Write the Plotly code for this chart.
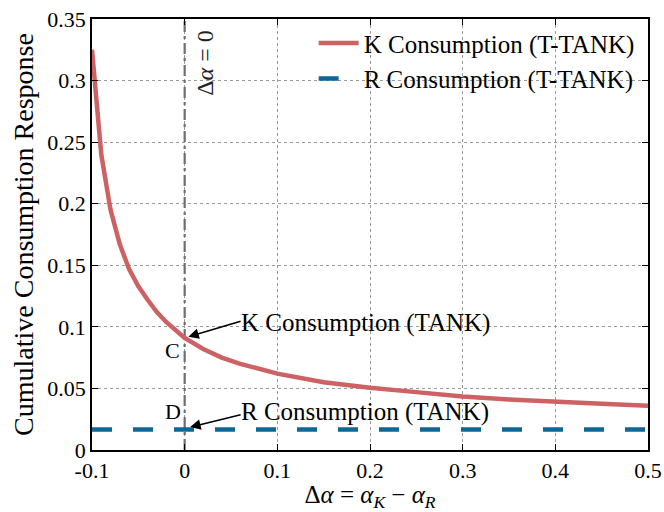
import plotly.graph_objects as go

# ---- data ----
delta_alpha = [-0.1, -0.09, -0.08, -0.07, -0.06, -0.05, -0.04, -0.03, -0.02, -0.01,
               0.0, 0.02, 0.04, 0.06, 0.08, 0.10, 0.15, 0.20, 0.25, 0.30, 0.35,
               0.40, 0.45, 0.50]
k_consumption = [0.325, 0.240, 0.195, 0.167, 0.147, 0.133, 0.122, 0.112, 0.104, 0.097,
                 0.091, 0.082, 0.075, 0.070, 0.066, 0.062, 0.055, 0.0505, 0.047, 0.0435,
                 0.041, 0.039, 0.0375, 0.036]
r_range = [-0.1, 0.5]
r_consumption = [0.0166, 0.0166]
vline_x = [0.0, 0.0]
vline_y = [0.0, 0.35]

x_ticks = [-0.1, 0.0, 0.1, 0.2, 0.3, 0.4, 0.5]
x_tick_text = ["-0.1", "0", "0.1", "0.2", "0.3", "0.4", "0.5"]
y_ticks = [0, 0.05, 0.1, 0.15, 0.2, 0.25, 0.3, 0.35]
y_tick_text = ["0", "0.05", "0.1", "0.15", "0.2", "0.25", "0.3", "0.35"]

# TANK points
point_c = (0.0, 0.091)
point_d = (0.0, 0.0166)

FONT = "'Liberation Serif', 'Times New Roman', Times, serif"
RED = "#cc6264"
BLUE = "#0f6798"

fig = go.Figure()
fig.add_trace(go.Scatter(x=vline_x, y=vline_y, mode="lines",
                         line=dict(color="#6e6e6e", width=2.2, dash="11px,4px,3px,4px"),
                         showlegend=False, hoverinfo="skip"))
fig.add_trace(go.Scatter(x=delta_alpha, y=k_consumption, mode="lines",
                         name="K Consumption (T-TANK)",
                         line=dict(color=RED, width=4.5)))
fig.add_trace(go.Scatter(x=r_range, y=r_consumption, mode="lines",
                         name="R Consumption (T-TANK)",
                         line=dict(color=BLUE, width=4.5, dash="20px,21px")))

ann = []
# arrows
ann.append(dict(x=point_c[0] + 0.004, y=point_c[1] + 0.001, ax=0.062, ay=0.105,
                xref="x", yref="y", axref="x", ayref="y", text="", showarrow=True,
                arrowhead=2, arrowsize=1.3, arrowwidth=1.6, arrowcolor="black"))
ann.append(dict(x=point_d[0] + 0.006, y=point_d[1] + 0.002, ax=0.062, ay=0.029,
                xref="x", yref="y", axref="x", ayref="y", text="", showarrow=True,
                arrowhead=2, arrowsize=1.3, arrowwidth=1.6, arrowcolor="black"))
ann.append(dict(x=0.059, y=0.1035, xref="x", yref="y", text="K Consumption (TANK)",
                showarrow=False, xanchor="left", yanchor="middle",
                font=dict(family=FONT, size=25, color="black")))
ann.append(dict(x=0.059, y=0.0305, xref="x", yref="y", text="R Consumption (TANK)",
                showarrow=False, xanchor="left", yanchor="middle",
                font=dict(family=FONT, size=25, color="black")))
ann.append(dict(x=-0.013, y=0.081, xref="x", yref="y", text="C",
                showarrow=False, xanchor="center", yanchor="middle",
                font=dict(family=FONT, size=22, color="black")))
ann.append(dict(x=-0.013, y=0.031, xref="x", yref="y", text="D",
                showarrow=False, xanchor="center", yanchor="middle",
                font=dict(family=FONT, size=22, color="black")))
ann.append(dict(x=0.0225, y=0.314, xref="x", yref="y", text="Δ<i>α</i> = 0",
                showarrow=False, textangle=-90, xanchor="center", yanchor="middle",
                font=dict(family=FONT, size=24, color="#222222")))

fig.update_layout(
    width=664, height=512,
    margin=dict(l=92, r=16, t=19, b=62, autoexpand=False),
    paper_bgcolor="white", plot_bgcolor="white",
    font=dict(family=FONT, size=22, color="black"),
    showlegend=True,
    legend=dict(x=0.985, y=0.997, xanchor="right", yanchor="top",
                bgcolor="rgba(0,0,0,0)", borderwidth=0,
                font=dict(family=FONT, size=25, color="black"),
                tracegroupgap=0, itemwidth=40),
    annotations=ann,
)
fig.update_xaxes(range=[-0.1, 0.5], tickvals=x_ticks, ticktext=x_tick_text,
                 showgrid=True, gridcolor="#9a9a9a", griddash="dot", gridwidth=1,
                 zeroline=False, showline=True, linecolor="black", linewidth=1.5,
                 mirror="ticks", ticks="inside", ticklen=6, tickcolor="black",
                 automargin=False,
                 tickfont=dict(family=FONT, size=22),
                 title=dict(text="Δ<i>α</i> = <i>α<sub>K</sub></i> − <i>α<sub>R</sub></i>",
                            font=dict(family=FONT, size=25), standoff=8))
fig.update_yaxes(range=[0, 0.35], tickvals=y_ticks, ticktext=y_tick_text,
                 showgrid=True, gridcolor="#9a9a9a", griddash="dot", gridwidth=1,
                 zeroline=False, showline=True, linecolor="black", linewidth=1.5,
                 mirror="ticks", ticks="inside", ticklen=6, tickcolor="black",
                 automargin=False,
                 tickfont=dict(family=FONT, size=22),
                 title=dict(text="Cumulative Consumption Response",
                            font=dict(family=FONT, size=28), standoff=6))

fig.write_html("out.html")
